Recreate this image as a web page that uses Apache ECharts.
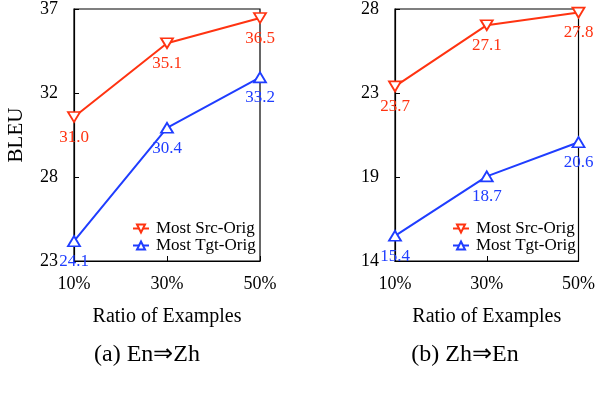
<!DOCTYPE html>
<html>
<head>
<meta charset="utf-8">
<script src="https://cdn.jsdelivr.net/npm/echarts@6/dist/echarts.min.js"></script>
<style>
  html, body { margin: 0; padding: 0; background: #fff; }
  #chart { width: 598px; height: 398px; }
</style>
</head>
<body>
<div id="chart"></div>
<script>
// data
const ratios = ['10%', '30%', '50%'];
const seriesNames = ['Most Src-Orig', 'Most Tgt-Orig'];
const enZhSrc = [31.0, 35.1, 36.5];
const enZhTgt = [24.1, 30.4, 33.2];
const zhEnSrc = [23.7, 27.1, 27.8];
const zhEnTgt = [15.4, 18.7, 20.6];
// y ranges: 3 equal steps, labels rounded
const enZhRange = [23, 37];
const zhEnRange = [14, 28];
const panelTitles = ['(a) En\u21d2Zh', '(b) Zh\u21d2En'];

const RED = '#ff3311', BLUE = '#1f3dff';
const FONT = '"Liberation Serif", "Times New Roman", serif';

function steps(r) {
  const d = (r[1] - r[0]) / 3;
  return [r[0], r[0] + d, r[0] + 2 * d, r[1]];
}

const chart = echarts.init(document.getElementById('chart'), null, { renderer: 'canvas' });

const grids = [
  { left: 74, top: 8, width: 186, height: 253 },
  { left: 395, top: 8, width: 185, height: 253 }
];

function xAxis(i) {
  return {
    type: 'category', gridIndex: i, data: ratios, boundaryGap: false,
    axisLine: { lineStyle: { color: '#000', width: 1.2 } },
    axisTick: { inside: true, length: 5, lineStyle: { color: '#000' } },
    axisLabel: { color: '#000', fontFamily: FONT, fontSize: 18, margin: 14 },
    name: 'Ratio of Examples', nameLocation: 'middle', nameGap: 46,
    nameTextStyle: { color: '#000', fontFamily: FONT, fontSize: 20 }
  };
}

function yAxis(i, r, name) {
  const vals = steps(r);
  return {
    type: 'value', gridIndex: i, min: r[0], max: r[1],
    axisLine: { show: true, lineStyle: { color: '#000', width: 1.2 } },
    axisTick: { show: true, inside: true, length: 5, customValues: vals, lineStyle: { color: '#000' } },
    axisLabel: { color: '#000', fontFamily: FONT, fontSize: 18, margin: 16,
      customValues: vals, formatter: v => String(Math.round(v)) },
    splitLine: { show: false },
    name: name, nameLocation: 'middle', nameGap: 47,
    nameTextStyle: { color: '#000', fontFamily: FONT, fontSize: 21 }
  };
}

function line(i, name, data, color, down) {
  return {
    type: 'line', name: name, xAxisIndex: i, yAxisIndex: i, data: data,
    symbol: 'triangle', symbolSize: [12, 10], symbolRotate: down ? 180 : 0,
    lineStyle: { color: color, width: 2 },
    itemStyle: { color: '#fff', borderColor: color, borderWidth: 1.8 },
    label: { show: true, position: 'bottom', distance: 6, color: color,
      fontFamily: FONT, fontSize: 17, formatter: p => p.value.toFixed(1) },
    z: down ? 3 : 2
  };
}

function legend(left) {
  return {
    left: left, top: 215, orient: 'vertical', itemGap: 0,
    itemWidth: 16, itemHeight: 10, data: seriesNames,
    textStyle: { color: '#000', fontFamily: FONT, fontSize: 17, padding: [0, 0, 0, 2], lineHeight: 16 }
  };
}

chart.setOption({
  animation: false,
  backgroundColor: '#fff',
  title: [
    { text: panelTitles[0], left: 142, top: 338, textAlign: 'center',
      textStyle: { color: '#000', fontFamily: FONT, fontSize: 24, fontWeight: 'normal' } },
    { text: panelTitles[1], left: 460, top: 338, textAlign: 'center',
      textStyle: { color: '#000', fontFamily: FONT, fontSize: 24, fontWeight: 'normal' } }
  ],
  grid: grids.map(g => Object.assign({ show: true, borderColor: '#000', borderWidth: 1.2, backgroundColor: 'transparent' }, g)),
  xAxis: [xAxis(0), xAxis(1)],
  yAxis: [yAxis(0, enZhRange, 'BLEU'), yAxis(1, zhEnRange, '')],
  legend: [legend(127), legend(447)],
  series: [
    line(0, seriesNames[0], enZhSrc, RED, true),
    line(0, seriesNames[1], enZhTgt, BLUE, false),
    line(1, seriesNames[0], zhEnSrc, RED, true),
    line(1, seriesNames[1], zhEnTgt, BLUE, false)
  ]
});
</script>
</body>
</html>
